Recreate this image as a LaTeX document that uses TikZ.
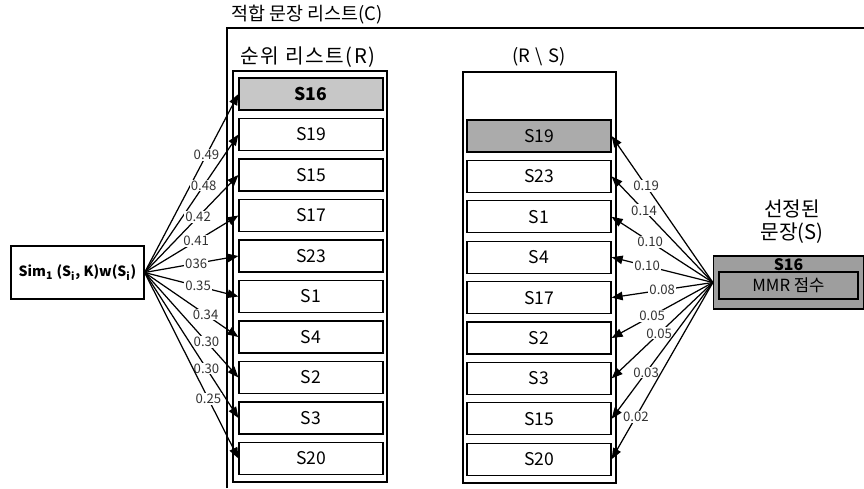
\documentclass[tikz,border=0pt]{standalone}
\usepackage{fontspec}
\setmainfont{Noto Sans CJK KR}
\usetikzlibrary{arrows.meta,positioning}

\tikzset{
  item/.style={draw, line width=0.7pt, minimum width=28.8mm, minimum height=6.4mm, inner sep=0pt, font=\fontsize{10}{11}\selectfont},
  lst/.style={draw, line width=0.6pt},
  lbl/.style={fill=white, inner sep=0.6pt, font=\fontsize{7.5}{8}\selectfont, text=black!80},
  arr/.style={line width=0.7pt, -{Triangle[length=2.2mm,width=1.7mm]}},
  head/.style={font=\fontsize{10.5}{12}\selectfont},
}

\begin{document}
\begin{tikzpicture}[x=0.2mm, y=-0.2mm]
    \useasboundingbox (0,0) rectangle (864,488);

    % Candidate set C
    \draw[line width=0.8pt] (227,488) -- (227,28) -- (864,28);
    \node[head] (ctitle) at (307,15) {적합 문장 리스트(C)};

    % Ranked list R
    \draw[lst] (233,71) rectangle (387,482);
    \node[font=\fontsize{11.5}{13}\selectfont] (rtitle) at (308,57) {\addfontfeature{LetterSpace=8}순위 리스트(R)};
    \foreach \name/\i in {16/0,19/1,15/2,17/3,23/4,1/5,4/6,2/7,3/8,20/9}
        \node[item] (r\name) at (311,94+40.5*\i) {S\name};
    \node[item, fill=black!22, font=\fontsize{10}{11}\selectfont\bfseries] at (r16) {S16};

    % R minus S
    \draw[lst] (463,72) rectangle (616,483);
    \node[head] (stitle) at (539,57) {(R\;\textbackslash\;S)};
    \foreach \name/\i in {19/0,23/1,1/2,4/3,17/4,2/5,3/6,15/7,20/8}
        \node[item] (q\name) at (539,136+40.4*\i) {S\name};
    \node[item, fill=black!33] at (q19) {S19};

    % Score
    \node[draw, line width=0.7pt, minimum width=26.6mm, minimum height=10.6mm,
          font=\fontsize{8}{9}\selectfont\bfseries] (sim) at (77.5,272.5)
          {Sim\textsubscript{1} (S\textsubscript{i}, K)w(S\textsubscript{i})};

    % Selected S
    \node[draw, line width=0.7pt, fill=black!38, minimum width=30mm, minimum height=10.6mm] (sel) at (788.5,282.5) {};
    \node[draw, line width=0.7pt, fill=black!38, minimum width=27.8mm, minimum height=5.4mm,
          font=\fontsize{9.5}{10}\selectfont] (mmr) at (788.5,285.5) {MMR 점수};
    \node[font=\fontsize{9}{10}\selectfont\bfseries] (s16) at (788.5,265) {S16};
    \node[font=\fontsize{11.5}{13}\selectfont, align=center] (seltitle) at (792,222) {선정된\\문장(S)};

    % Lines
    \foreach \name/\val/\p in {16/0.49/.66,19/0.48/.63,15/0.42/.57,17/0.41/.55,23/036/.55,1/0.35/.57,4/0.34/.65,2/0.30/.66,3/0.30/.66,20/0.25/.68}
        \draw[arr] (sim.east) -- (r\name.west) node[lbl, pos=\p] {\val};
    \foreach \name/\val/\p in {19/0.19/.66,23/0.14/.68,1/0.10/.62,4/0.10/.65,17/0.08/.5,2/0.05/.6,3/0.05/.53,15/0.03/.66,20/0.02/.76}
        \draw[arr] (sel.west) -- (q\name.east) node[lbl, pos=\p] {\val};
\end{tikzpicture}
\end{document}
